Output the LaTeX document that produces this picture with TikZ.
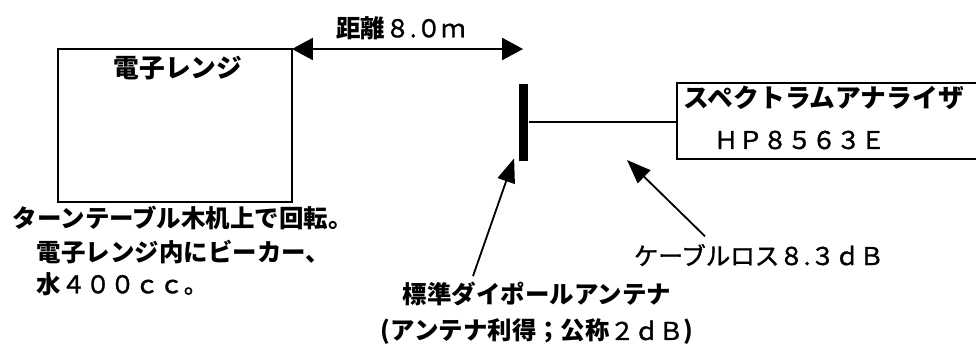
\documentclass[tikz,border=0pt]{standalone}
\usepackage{fontspec}
\setmainfont{Noto Sans CJK JP}
\usetikzlibrary{arrows.meta,positioning}
\newcommand\thin[1]{{\mdseries\addfontfeature{FakeBold=1.4}#1}}
\tikzset{
  box/.style={draw,inner sep=0pt,outer sep=0pt},
  txt/.style={inner sep=0pt,anchor=west},
  big/.style={font=\bfseries\fontsize{18.3}{21}\selectfont},
  dist/.style={{Triangle[length=0.52cm,width=0.55cm]}-{Triangle[length=0.52cm,width=0.55cm]}},
  pointer/.style={-{Triangle[length=0.6cm,width=0.45cm]}}
}
\begin{document}
\begin{tikzpicture}[font=\bfseries\fontsize{17.4}{20}\selectfont,line width=1.3pt]
    \useasboundingbox (0,0) rectangle (24.4,8.65);
    \clip (0,0) rectangle (24.4,8.65);
    % oven
    \node[box,anchor=north west,minimum width=5.85cm,minimum height=3.825cm] (oven) at (1.45,7.425) {};
    \node[big] (ovenname) at (4.45,6.95) {電子レンジ};
    \node[txt] (turn) at (0.3,3.2) {ターンテーブル木机上で回転。};
    \node[txt] (beaker) at (0.9,2.35) {電子レンジ内にビーカー、};
    \node[txt] (water) at (0.9,1.55) {水\thin{４００ｃｃ。}};
    % distance
    \coordinate (distend) at (13.075,7.425);
    \draw[dist] (oven.north east) -- (distend);
    \node (distlbl) at (10.025,7.95) {距離\thin{８.０ｍ}};
    % antenna, cable, analyzer
    \node[fill,inner sep=0pt,minimum width=0.225cm,minimum height=1.925cm] (ant) at (13.0875,5.6) {};
    \node[box,anchor=west,minimum width=8cm,minimum height=1.9cm] (analyzer) at (16.925,5.625) {};
    \draw (ant.east) -- (ant.east -| analyzer.west);
    \node[txt,big] (sa) at (17.075,6.2) {スペクトラムアナライザ};
    \node[txt] (model) at (17.825,5.15) {\thin{ＨＰ８５６３Ｅ}};
    % labels with arrows
    \node[txt] (loss) at (15.825,2.275) {\thin{ケーブルロス８.３ｄＢ}};
    \coordinate (cabletip) at (15.675,4.65);
    \draw[pointer] ([xshift=1.8cm,yshift=0.17cm]loss.north west) -- (cabletip);
    \node[txt] (dipole) at (10.05,1.29) {標準ダイポールアンテナ};
    \node[txt] (gain) at (9.5,0.35) {(アンテナ利得；公称\thin{２ｄＢ})};
    \draw[pointer] ([xshift=1.775cm,yshift=0.135cm]dipole.north west) -- ([xshift=-0.1cm,yshift=0.075cm]ant.south west);
  \end{tikzpicture}
\end{document}
